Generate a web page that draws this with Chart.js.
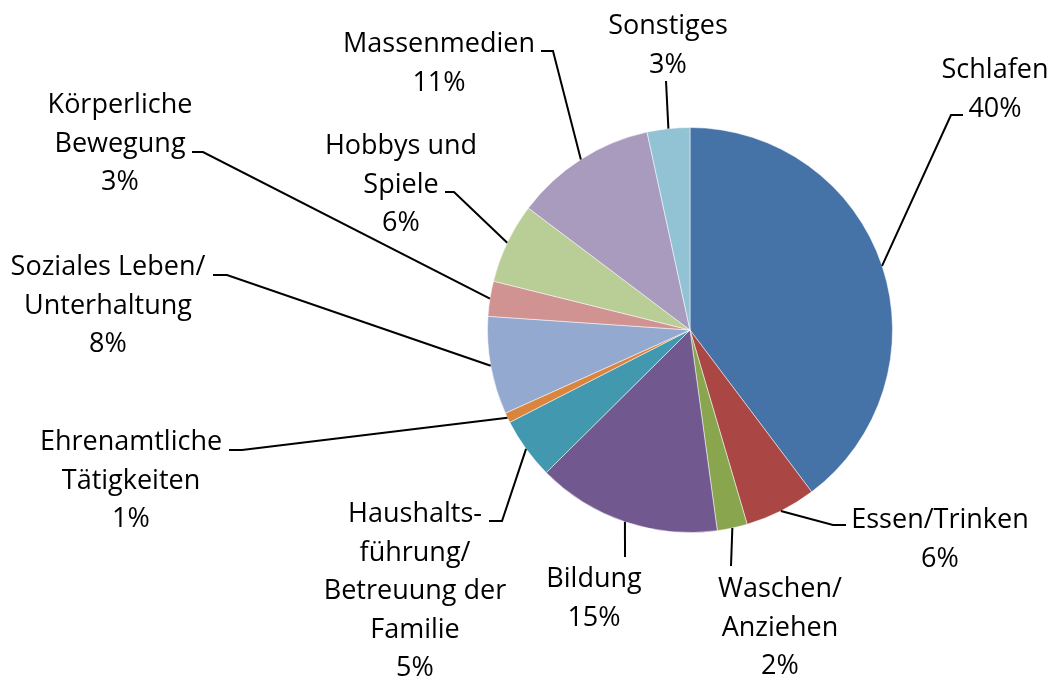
<!DOCTYPE html>
<html>
<head>
<meta charset="utf-8">
<script src="https://cdn.jsdelivr.net/npm/chart.js"></script>
<style>
body{margin:0;background:#fff;}
</style>
</head>
<body>
<canvas id="c" width="1056" height="678"></canvas>
<script>
/* Daten */
const categories = ["Schlafen","Essen/Trinken","Waschen/\nAnziehen","Bildung","Haushalts-\nführung/\nBetreuung der\nFamilie","Ehrenamtliche\nTätigkeiten","Soziales Leben/\nUnterhaltung","Körperliche\nBewegung","Hobbys und\nSpiele","Massenmedien","Sonstiges"];
const values = [39.7,5.7,2.4,14.7,4.9,0.8,7.8,2.8,6.4,11.3,3.4];
const colors = ["#4572A7","#AA4643","#89A54E","#71588F","#4198AF","#DB843D","#93A9CF","#D19392","#B9CD96","#A99BBD","#92C3D5"];

/* Beschriftung: Mitte x, erste Grundlinie y, Knickpunkte der Linie (vom Text zur Torte) */
const labelLayout = [
  {x:995, y:78,  pts:[[963,115],[951,115]]},
  {x:940, y:528, pts:[[846,525],[833,525]]},
  {x:780, y:597, pts:[[731,566]]},
  {x:594, y:587, pts:[[625,557]]},
  {x:415, y:522, pts:[[489,521],[502,521]]},
  {x:131, y:450, pts:[[229,450],[242,450]]},
  {x:108, y:275, pts:[[213,275],[227,275]]},
  {x:120, y:113, pts:[[192,152],[203,152]]},
  {x:401, y:154, pts:[[445,192],[454,192]]},
  {x:439, y:52,  pts:[[541,51],[553,51]]},
  {x:668, y:34,  pts:[[666,81]]}
];

const lineH = 38.5;

const leaderPlugin = {
  id:"leader",
  afterDatasetsDraw(chart){
    const ctx = chart.ctx;
    const meta = chart.getDatasetMeta(0);
    const total = values.reduce((a,b)=>a+b,0);
    ctx.save();
    meta.data.forEach((arc,i)=>{
      const p = arc.getProps(["x","y","startAngle","endAngle","outerRadius"],true);
      const mid = (p.startAngle+p.endAngle)/2;
      const ex = p.x+Math.cos(mid)*p.outerRadius;
      const ey = p.y+Math.sin(mid)*p.outerRadius;
      const L = labelLayout[i];

      ctx.strokeStyle="#000";
      ctx.lineWidth=2;
      ctx.beginPath();
      ctx.moveTo(L.pts[0][0],L.pts[0][1]);
      L.pts.slice(1).forEach(q=>ctx.lineTo(q[0],q[1]));
      ctx.lineTo(ex,ey);
      ctx.stroke();

      let lines = categories[i].split("\n");
      lines.push(Math.round(values[i]/total*100)+"%");
      ctx.fillStyle="#000";
      ctx.font='27px "Open Sans"';
      ctx.textAlign="center";
      ctx.textBaseline="alphabetic";
      lines.forEach((t,k)=>ctx.fillText(t,L.x,L.y+k*lineH));
    });
    ctx.restore();
  }
};

new Chart(document.getElementById("c"),{
  type:"pie",
  data:{
    labels:categories,
    datasets:[{data:values,backgroundColor:colors,borderColor:"rgba(255,255,255,0.5)",borderWidth:1}]
  },
  options:{
    responsive:false,
    animation:false,
    layout:{padding:{left:487,right:163,top:127,bottom:145}},
    plugins:{legend:{display:false},tooltip:{enabled:false}}
  },
  plugins:[leaderPlugin]
});
</script>
</body>
</html>
